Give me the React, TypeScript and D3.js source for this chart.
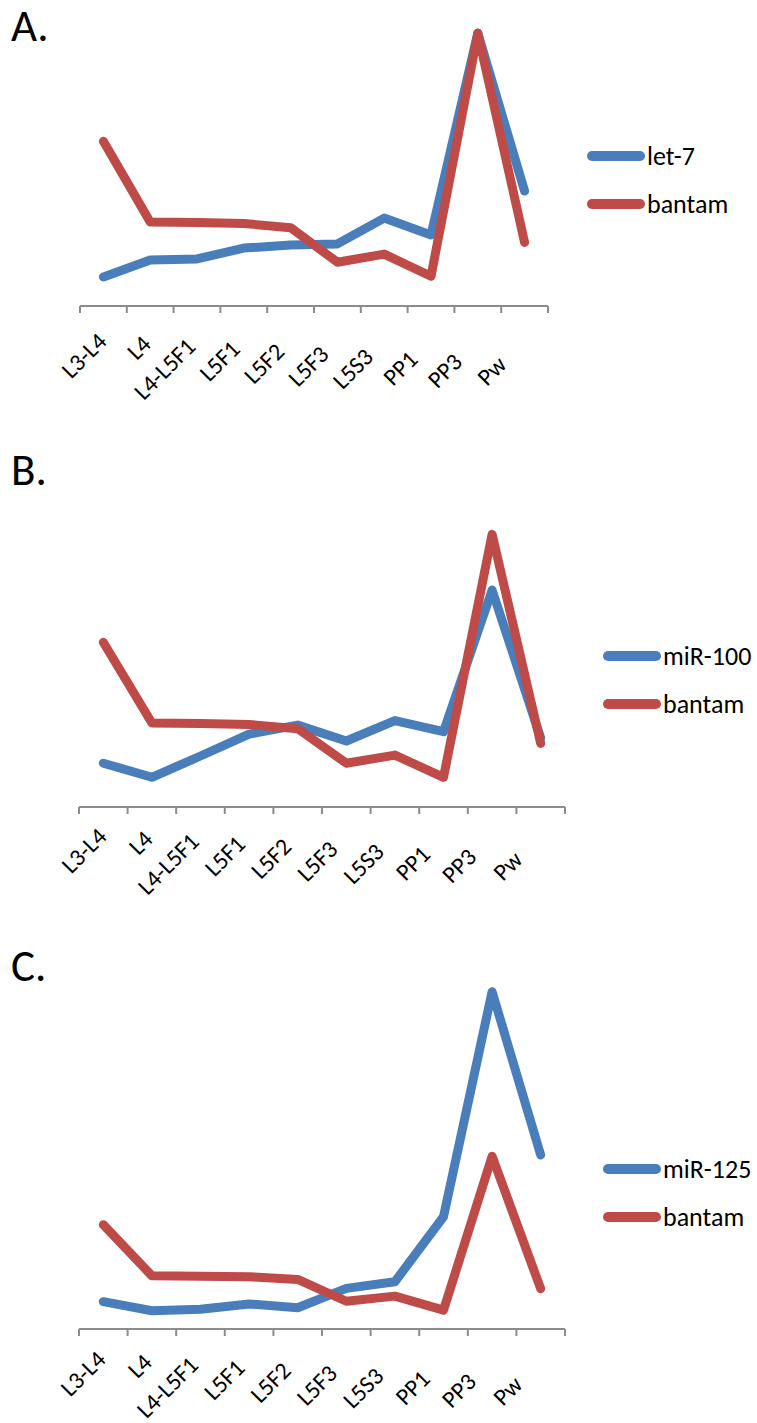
import * as d3 from "d3";

// ── Data (relative expression) ────────────────────────────────
const stages = ["L3-L4", "L4", "L4-L5F1", "L5F1", "L5F2", "L5F3", "L5S3", "PP1", "PP3", "Pw"];

const bantam = [5.49, 2.8, 2.78, 2.75, 2.61, 1.46, 1.73, 0.99, 9.09, 2.12];
const let7   = [0.97, 1.53, 1.57, 1.93, 2.03, 2.07, 2.93, 2.37, 9.1, 3.83];
const mir100 = [1.46, 0.99, 1.7, 2.43, 2.73, 2.2, 2.88, 2.51, 7.23, 2.3];
const mir125 = [1.44, 0.96, 1.04, 1.32, 1.12, 2.14, 2.49, 5.91, 17.75, 9.16];

const BLUE = "#4a7ebb";
const RED  = "#be4b48";
const AXIS = "#8c8c8c";
const FONT = "Calibri, Carlito, Lato, sans-serif";

interface Panel {
  letter: string;
  letterY: number;
  name: string;
  values: number[];
  yMax: number;
  axisY: number;
  plotH: number;
  x0: number;
  x1: number;
  labX: [number, number];
  labDy: [number, number];
  legendX: number;
  legendY: number;
}

const panels: Panel[] = [
  { letter: "A.", letterY: 41, name: "let-7", values: let7, yMax: 10, axisY: 306, plotH: 300,
    x0: 80, x1: 548, labX: [108, 508], labDy: [37, 60], legendX: 587, legendY: 156 },
  { letter: "B.", letterY: 485, name: "miR-100", values: mir100, yMax: 10, axisY: 807, plotH: 300,
    x0: 79, x1: 565, labX: [108, 524], labDy: [31, 54], legendX: 603, legendY: 656 },
  { letter: "C.", letterY: 981, name: "miR-125", values: mir125, yMax: 20, axisY: 1329, plotH: 380,
    x0: 79, x1: 565, labX: [107, 524], labDy: [32, 57], legendX: 603, legendY: 1169 },
];

function LineChart({ p }: { p: Panel }) {
  const x = d3.scaleBand<string>().domain(stages).range([p.x0, p.x1]);
  const cx = (s: string) => (x(s) as number) + x.bandwidth() / 2;
  const y = d3.scaleLinear().domain([0, p.yMax]).range([p.axisY, p.axisY - p.plotH]);
  const line = d3.line<number>().x((_d, i) => cx(stages[i])).y((d) => y(d));

  const labX = d3.scalePoint<string>().domain(stages).range(p.labX);
  const labY = d3.scalePoint<string>().domain(stages).range(p.labDy);
  const ticks = [...stages.map((s) => x(s) as number), p.x1];

  const series = [
    { name: p.name, color: BLUE, values: p.values },
    { name: "bantam", color: RED, values: bantam },
  ];

  return (
    <g>
      <text x={11} y={p.letterY} fontSize={45} fontFamily={FONT} fill="#000">{p.letter}</text>

      <line x1={p.x0} x2={p.x1} y1={p.axisY} y2={p.axisY} stroke={AXIS} strokeWidth={2} />
      {ticks.map((t, i) => (
        <line key={i} x1={t} x2={t} y1={p.axisY} y2={p.axisY + 7} stroke={AXIS} strokeWidth={2} />
      ))}
      {stages.map((s) => (
        <text key={s} fontSize={24} fontFamily={FONT} fill="#000" textAnchor="end"
          transform={`translate(${labX(s)},${p.axisY + (labY(s) as number)}) rotate(-45)`}>
          {s}
        </text>
      ))}

      {series.map((sr) => (
        <path key={sr.name} d={line(sr.values) ?? ""} fill="none" stroke={sr.color}
          strokeWidth={9} strokeLinejoin="round" strokeLinecap="round" />
      ))}

      {series.map((sr, i) => (
        <g key={sr.name} transform={`translate(${p.legendX},${p.legendY + i * 48})`}>
          <line x1={5} x2={53} y1={0} y2={0} stroke={sr.color} strokeWidth={10} strokeLinecap="round" />
          <text x={60} y={8.5} fontSize={26} fontFamily={FONT} fill="#000">{sr.name}</text>
        </g>
      ))}
    </g>
  );
}

export default function App() {
  return (
    <svg width={757} height={1423} style={{ position: "absolute", left: 0, top: 0, background: "#fff" }}>
      {panels.map((p) => <LineChart key={p.letter} p={p} />)}
    </svg>
  );
}
